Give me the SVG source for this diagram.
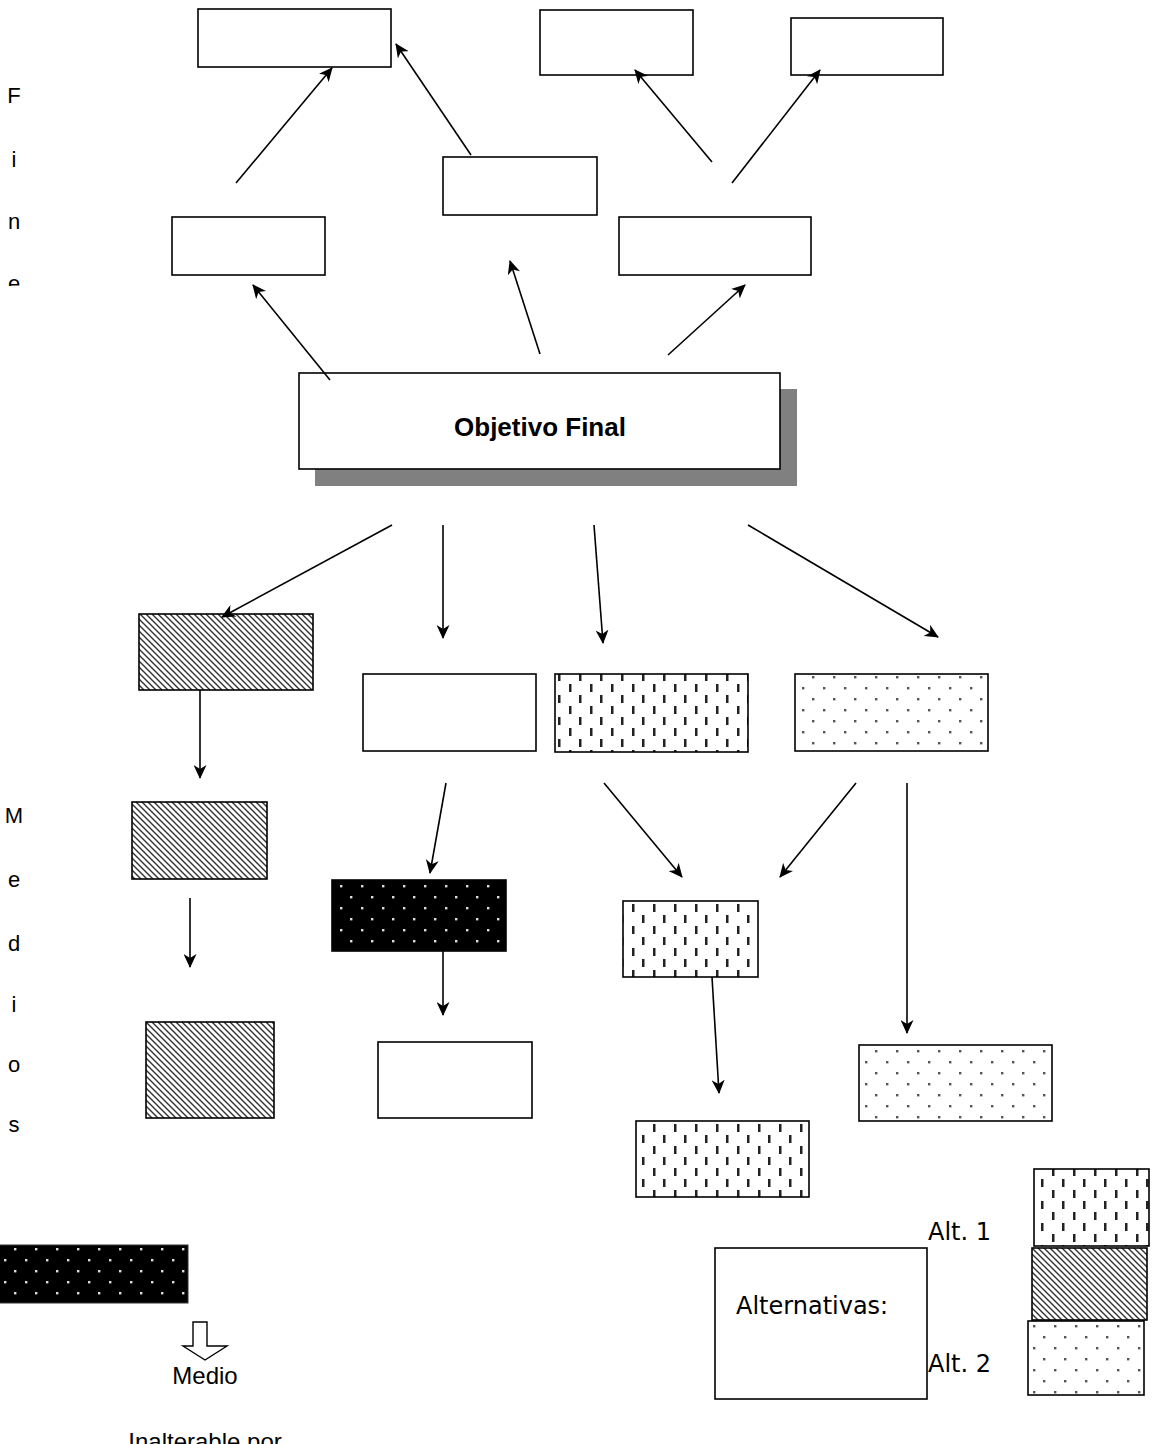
<svg xmlns="http://www.w3.org/2000/svg" width="1152" height="1444" viewBox="0 0 1152 1444">
<style>
.box{stroke:#000;stroke-width:1.6}
.w{fill:#fff}
.h{fill:url(#hatch)}
.v{fill:url(#vdash)}
.d{fill:url(#dots)}
.b{fill:url(#bdots)}
.lbl{font-family:"Liberation Sans",Arial,sans-serif;font-size:22px;fill:#000}
.alt{font-family:"DejaVu Sans","Liberation Sans",sans-serif;font-size:24px;fill:#000}
#connectors line{stroke:#000;stroke-width:1.6;marker-end:url(#ah)}
</style>
<defs>
<marker id="ah" markerUnits="userSpaceOnUse" viewBox="0 0 14 13" markerWidth="14" markerHeight="13" refX="13" refY="6.5" orient="auto">
<path d="M0,0 L14,6.5 L0,13 L4,6.5 Z" fill="#000"/>
</marker>
<pattern id="hatch" patternUnits="userSpaceOnUse" width="6" height="6">
<rect width="6" height="6" fill="#fff"/>
<path d="M-1,-1 L7,7 M-1,5 L1,7 M5,-1 L7,1" stroke="#333" stroke-width="1.4"/>
</pattern>
<pattern id="vdash" patternUnits="userSpaceOnUse" width="21" height="22">
<rect width="21" height="22" fill="#fff"/>
<rect x="2" y="2" width="2.5" height="8" fill="#222"/>
<rect x="12" y="13" width="2.5" height="8" fill="#222"/>
</pattern>
<pattern id="dots" patternUnits="userSpaceOnUse" width="21" height="22">
<rect width="21" height="22" fill="#fff"/>
<rect x="4" y="5" width="2.4" height="2.4" fill="#555"/>
<rect x="14" y="16" width="2.4" height="2.4" fill="#555"/>
</pattern>
<pattern id="bdots" patternUnits="userSpaceOnUse" width="21" height="22">
<rect width="21" height="22" fill="#000"/>
<rect x="4" y="5" width="2.4" height="2.4" fill="#ddd"/>
<rect x="14" y="16" width="2.4" height="2.4" fill="#ddd"/>
</pattern>
<clipPath id="fineclip"><rect x="0" y="60" width="60" height="226"/></clipPath>
</defs>
<rect width="1152" height="1444" fill="#fff"/>

<g id="label-fines" clip-path="url(#fineclip)">
<text class="lbl" x="14" y="103" text-anchor="middle">F</text>
<text class="lbl" x="14" y="167" text-anchor="middle">i</text>
<text class="lbl" x="14" y="229" text-anchor="middle">n</text>
<text class="lbl" x="14" y="291" text-anchor="middle">e</text>
</g>
<g id="label-medios">
<text class="lbl" x="14" y="823" text-anchor="middle">M</text>
<text class="lbl" x="14" y="887" text-anchor="middle">e</text>
<text class="lbl" x="14" y="951" text-anchor="middle">d</text>
<text class="lbl" x="14" y="1012" text-anchor="middle">i</text>
<text class="lbl" x="14" y="1072" text-anchor="middle">o</text>
<text class="lbl" x="14" y="1132" text-anchor="middle">s</text>
</g>

<g id="fin1"><rect class="box w" x="198" y="9" width="193" height="58"/></g>
<g id="fin2"><rect class="box w" x="540" y="10" width="153" height="65"/></g>
<g id="fin3"><rect class="box w" x="791" y="18" width="152" height="57"/></g>
<g id="fin4"><rect class="box w" x="443" y="157" width="154" height="58"/></g>
<g id="fin5"><rect class="box w" x="172" y="217" width="153" height="58"/></g>
<g id="fin6"><rect class="box w" x="619" y="217" width="192" height="58"/></g>

<g id="objetivo">
<rect x="315" y="389" width="482" height="97" fill="#808080"/>
<rect class="box w" x="299" y="373" width="481" height="96"/>
<text x="540" y="436" text-anchor="middle" font-family="Liberation Sans, Arial, sans-serif" font-size="26" font-weight="bold">Objetivo Final</text>
</g>

<g id="medio1"><rect class="box h" x="139" y="614" width="174" height="76"/></g>
<g id="medio2"><rect class="box w" x="363" y="674" width="173" height="77"/></g>
<g id="medio3"><rect class="box v" x="555" y="674" width="193" height="78"/></g>
<g id="medio4"><rect class="box d" x="795" y="674" width="193" height="77"/></g>
<g id="medio5"><rect class="box h" x="132" y="802" width="135" height="77"/></g>
<g id="medio6"><rect class="box b" x="332" y="880" width="174" height="71"/></g>
<g id="medio7"><rect class="box v" x="623" y="901" width="135" height="76"/></g>
<g id="medio8"><rect class="box h" x="146" y="1022" width="128" height="96"/></g>
<g id="medio9"><rect class="box w" x="378" y="1042" width="154" height="76"/></g>
<g id="medio10"><rect class="box v" x="636" y="1121" width="173" height="76"/></g>
<g id="medio11"><rect class="box d" x="859" y="1045" width="193" height="76"/></g>

<g id="inalterable">
<rect x="-5" y="1245" width="193" height="58" fill="url(#bdots)" stroke="#333" stroke-width="1"/>
<polygon points="193,1322 207,1322 207,1346 227,1346 205,1360 183,1346 193,1346" fill="#fff" stroke="#000" stroke-width="1.4" stroke-linejoin="miter"/>
<text x="205" y="1384" text-anchor="middle" font-family="Liberation Sans, Arial, sans-serif" font-size="24">Medio</text>
<text x="205" y="1450" text-anchor="middle" font-family="Liberation Sans, Arial, sans-serif" font-size="24">Inalterable por</text>
</g>

<g id="legend">
<rect class="box w" x="715" y="1248" width="212" height="151"/>
<text class="alt" x="736" y="1314">Alternativas:</text>
<text class="alt" x="928" y="1240">Alt. 1</text>
<text class="alt" x="928" y="1372">Alt. 2</text>
<rect class="box v" x="1034" y="1169" width="115" height="77"/>
<rect class="box h" x="1032" y="1248" width="115" height="72"/>
<rect class="box d" x="1028" y="1321" width="116" height="74"/>
</g>

<g id="connectors">
<line x1="236" y1="183" x2="332" y2="68"/>
<line x1="471" y1="155" x2="396" y2="44"/>
<line x1="712" y1="162" x2="635" y2="70"/>
<line x1="732" y1="183" x2="820" y2="70"/>
<line x1="330" y1="380" x2="253" y2="285"/>
<line x1="540" y1="354" x2="510" y2="261"/>
<line x1="668" y1="355" x2="745" y2="285"/>
<line x1="392" y1="525" x2="222" y2="617"/>
<line x1="443" y1="525" x2="443" y2="638"/>
<line x1="594" y1="525" x2="603" y2="643"/>
<line x1="748" y1="525" x2="938" y2="637"/>
<line x1="200" y1="690" x2="200" y2="778"/>
<line x1="446" y1="783" x2="430" y2="873"/>
<line x1="604" y1="783" x2="682" y2="877"/>
<line x1="856" y1="783" x2="780" y2="877"/>
<line x1="907" y1="783" x2="907" y2="1033"/>
<line x1="190" y1="898" x2="190" y2="967"/>
<line x1="443" y1="951" x2="443" y2="1015"/>
<line x1="712" y1="977" x2="719" y2="1093"/>
</g>
</svg>
